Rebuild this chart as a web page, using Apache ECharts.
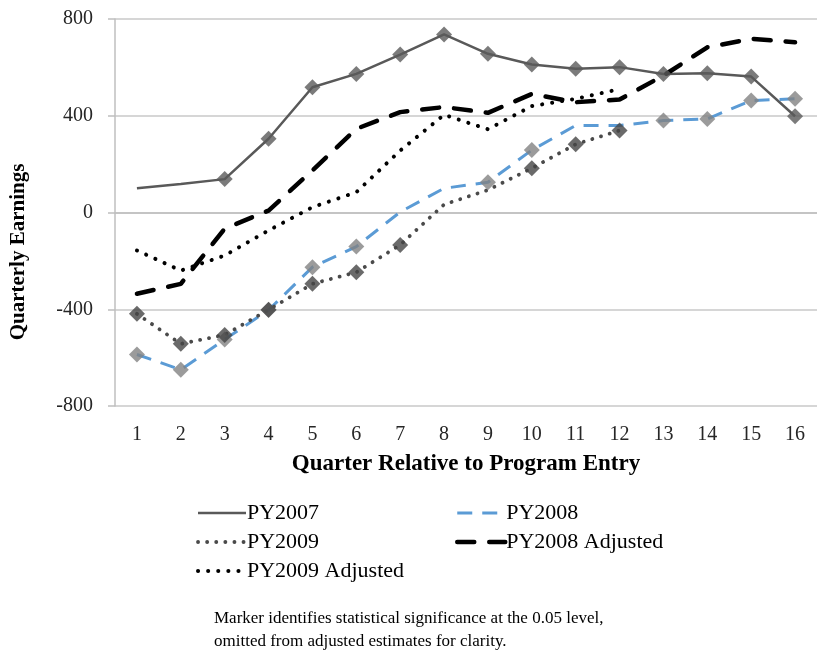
<!DOCTYPE html>
<html>
<head>
<meta charset="utf-8">
<script src="https://cdn.jsdelivr.net/npm/echarts@6/dist/echarts.min.js"></script>
<style>
html,body{margin:0;padding:0;background:#fff;}
#chart{width:817px;height:659px;}
</style>
</head>
<body>
<div id="chart"></div>
<script>
const quarters = ['1','2','3','4','5','6','7','8','9','10','11','12','13','14','15','16'];
const yTicks = [-800, -400, 0, 400, 800];

const py2007 = [100, 118, 138, 305, 518, 573, 653, 736, 656, 612, 594, 601, 573, 576, 562, 398];
const py2008 = [-587, -650, -525, -403, -226, -141, 2, 100, 125, 258, 360, 360, 380, 387, 463, 470];
const py2009 = [-419, -543, -506, -402, -295, -247, -134, 33, 93, 183, 282, 339, null, null, null, null];
const py2008Adj = [-336, -295, -67, 8, 174, 346, 415, 436, 412, 490, 456, 467, 566, 683, 718, 704];
const py2009Adj = [-157, -240, -178, -74, 22, 84, 256, 404, 344, 440, 470, 510, null, null, null, null];

const sig2007 = [0,0,1,1,1,1,1,1,1,1,1,1,1,1,1,1];
const sig2008 = [1,1,1,1,1,1,0,0,1,1,0,0,1,1,1,1];
const sig2009 = [1,1,1,1,1,1,1,0,0,1,1,1,0,0,0,0];

const serif = '"Liberation Serif", "Times New Roman", serif';

function markers(vals, sig) {
  return vals.map((v, i) => (sig[i] && v != null) ? v : null);
}

const chart = echarts.init(document.getElementById('chart'), null, {renderer: 'canvas'});

const legendCommon = {
  orient: 'vertical', top: 497, itemGap: 7,
  itemWidth: 48, itemHeight: 14,
  itemStyle: {opacity: 0},
  lineStyle: {width: 'inherit'},
  textStyle: {color: '#000', fontFamily: serif, fontSize: 22, padding: [0,0,0,-4]},
  selectedMode: false
};

const option = {
  animation: false,
  backgroundColor: '#ffffff',
  grid: {left: 115, right: -3, top: 19, bottom: 253, containLabel: false},
  xAxis: {
    type: 'category',
    data: quarters,
    boundaryGap: true,
    axisLine: {show: true, lineStyle: {color: '#bfbfbf', width: 1.5}},
    axisTick: {show: false},
    axisLabel: {color: '#262626', fontFamily: serif, fontSize: 20, margin: 19},
    splitLine: {show: false},
    name: 'Quarter Relative to Program Entry',
    nameLocation: 'middle',
    nameGap: 47,
    nameTextStyle: {color: '#000', fontFamily: serif, fontSize: 23, fontWeight: 'bold'}
  },
  yAxis: {
    type: 'value',
    min: yTicks[0],
    max: yTicks[yTicks.length - 1],
    interval: 400,
    axisLine: {show: true, lineStyle: {color: '#bfbfbf', width: 1.5}},
    axisTick: {show: true, inside: false, length: 7, lineStyle: {color: '#bfbfbf', width: 1.5}},
    axisLabel: {color: '#262626', fontFamily: serif, fontSize: 20, margin: 22},
    splitLine: {show: true, lineStyle: {color: '#c8c8c8', width: 1.5}}
  },
  legend: [
    Object.assign({}, legendCommon, {left: 191, data: ['PY2007', 'PY2009', 'PY2009 Adjusted']}),
    Object.assign({}, legendCommon, {left: 450, data: ['PY2008', 'PY2008 Adjusted']})
  ],
  graphic: [
    {
      type: 'text', x: 19, y: 252, rotation: Math.PI / 2,
      style: {
        text: 'Quarterly Earnings',
        font: 'bold 21px ' + serif, fill: '#000',
        align: 'center', verticalAlign: 'middle'
      }
    },
    {
      type: 'text', left: 214, top: 607,
      style: {
        text: 'Marker identifies statistical significance at the 0.05 level,\nomitted from adjusted estimates for clarity.',
        font: '17px ' + serif, fill: '#000', lineHeight: 23
      }
    }
  ],
  series: [
    {
      name: 'PY2007', type: 'line', data: py2007, symbol: 'none', z: 3,
      lineStyle: {color: '#595959', width: 2.5, type: 'solid'},
      itemStyle: {color: '#595959'}
    },
    {
      name: 'PY2008', type: 'line', data: py2008, symbol: 'none', z: 3,
      lineStyle: {color: '#5b9bd5', width: 3, type: [15, 10]},
      itemStyle: {color: '#5b9bd5'}
    },
    {
      name: 'PY2009', type: 'line', data: py2009, symbol: 'none', z: 3, connectNulls: false,
      lineStyle: {color: '#4a4a4a', width: 3.8, type: [0.1, 9], cap: 'round'},
      itemStyle: {color: '#4a4a4a'}
    },
    {
      name: 'PY2008 Adjusted', type: 'line', data: py2008Adj, symbol: 'none', z: 3,
      lineStyle: {color: '#000', width: 4.5, type: [17, 15], cap: 'round'},
      itemStyle: {color: '#000'}
    },
    {
      name: 'PY2009 Adjusted', type: 'line', data: py2009Adj, symbol: 'none', z: 3,
      lineStyle: {color: '#000', width: 4, type: [0.1, 10], cap: 'round'},
      itemStyle: {color: '#000'}
    },
    {
      name: 'm2007', type: 'scatter', data: markers(py2007, sig2007), symbol: 'diamond', symbolSize: 16, z: 5,
      itemStyle: {color: '#5a5a5a'}
    },
    {
      name: 'm2008', type: 'scatter', data: markers(py2008, sig2008), symbol: 'diamond', symbolSize: 16, z: 5,
      itemStyle: {color: '#828282'}
    },
    {
      name: 'm2009', type: 'scatter', data: markers(py2009, sig2009), symbol: 'diamond', symbolSize: 16, z: 6,
      itemStyle: {color: '#454545'}
    }
  ]
};
chart.setOption(option);
</script>
</body>
</html>
